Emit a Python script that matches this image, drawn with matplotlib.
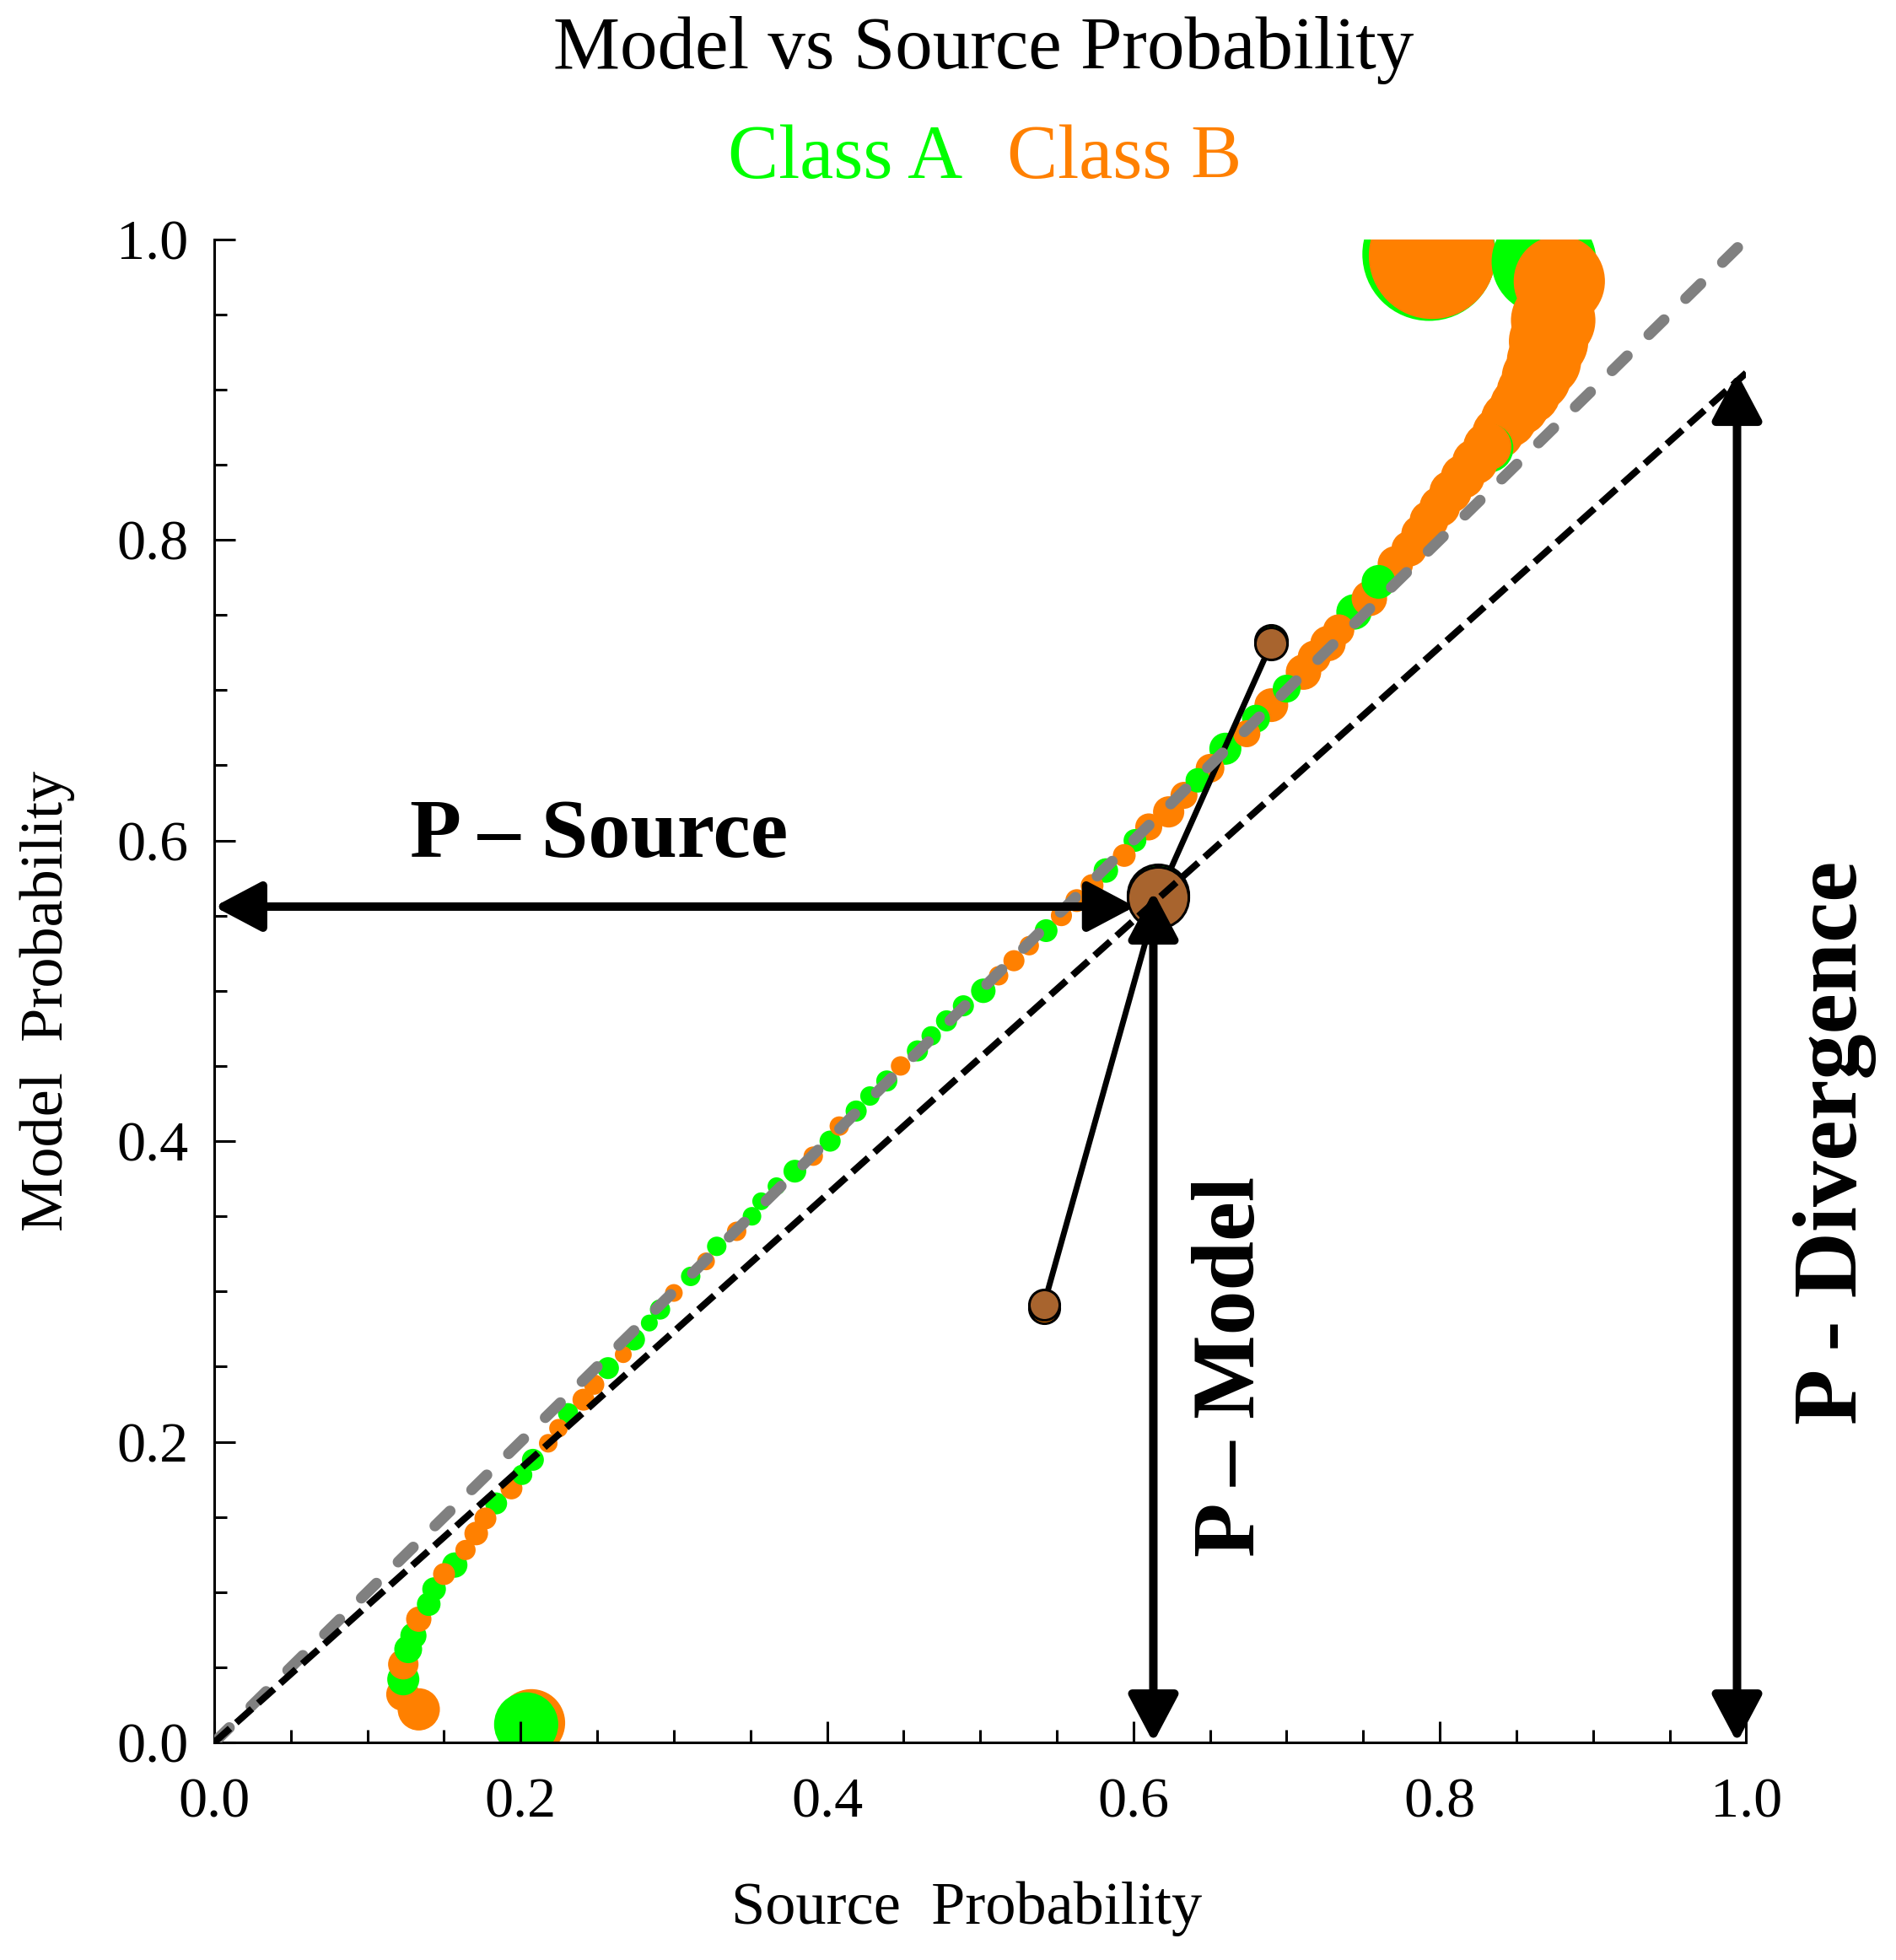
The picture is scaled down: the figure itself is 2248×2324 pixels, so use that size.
import matplotlib
matplotlib.use("Agg")
import matplotlib.pyplot as plt
import matplotlib.transforms as mtransforms
from matplotlib.patches import FancyArrowPatch
from matplotlib.ticker import MultipleLocator, FormatStrFormatter
import numpy as np

plt.rcParams['font.family'] = ['Liberation Serif', 'DejaVu Serif']
plt.rcParams['lines.scale_dashes'] = False

# Class A (green): source probability, model probability, bin weight
a_src = [0.2036, 0.1234, 0.1266, 0.130, 0.140, 0.1435, 0.157, 0.184, 0.201, 0.208,
         0.231, 0.257, 0.274, 0.284, 0.291,
         0.311, 0.328, 0.351, 0.357, 0.367, 0.379, 0.402, 0.419, 0.428, 0.439,
         0.459, 0.468, 0.478, 0.489, 0.502, 0.543, 0.582, 0.601, 0.642,
         0.660, 0.680, 0.700, 0.744, 0.760, 0.832, 0.868, 0.793]
a_mod = [0.012, 0.042, 0.062, 0.071, 0.092, 0.102, 0.118, 0.159, 0.178, 0.188,
         0.219, 0.249, 0.268, 0.279, 0.288,
         0.310, 0.330, 0.350, 0.360, 0.370, 0.380, 0.400, 0.420, 0.430, 0.440,
         0.460, 0.470, 0.480, 0.490, 0.500, 0.540, 0.580, 0.600, 0.640,
         0.661, 0.681, 0.701, 0.752, 0.772, 0.861, 0.985, 0.990]
a_w = [38, 19, 16.5, 15.5, 14, 14, 15, 13, 12, 13,
       12, 13, 13, 10, 12,
       11.5, 11.5, 11, 10.5, 10.5, 13.5, 12.5, 12.5, 11.5, 12.5,
       12.5, 11.5, 12.5, 12.5, 14.5, 13.5, 14.5, 13.5, 14.5,
       19, 16.5, 16.5, 21, 20, 29, 62, 79]

# Class B (orange)
b_src = [0.207, 0.1335, 0.123, 0.1234, 0.1335, 0.150, 0.164, 0.171, 0.177, 0.194,
         0.218, 0.2247, 0.241, 0.248, 0.267, 0.300,
         0.321, 0.341, 0.391, 0.408, 0.448, 0.512, 0.522, 0.532, 0.553, 0.563,
         0.573, 0.594, 0.610, 0.623, 0.633, 0.650,
         0.674, 0.690, 0.711, 0.718, 0.727, 0.734, 0.754, 0.771,
         0.780, 0.787, 0.793, 0.800, 0.807, 0.815, 0.823, 0.831, 0.838, 0.845,
         0.852, 0.858, 0.863, 0.868, 0.871, 0.874, 0.878, 0.795]
b_mod = [0.013, 0.022, 0.032, 0.052, 0.082, 0.112, 0.128, 0.139, 0.149, 0.169,
         0.199, 0.209, 0.228, 0.238, 0.258, 0.299,
         0.320, 0.340, 0.390, 0.410, 0.450, 0.510, 0.520, 0.530, 0.550, 0.560,
         0.570, 0.590, 0.609, 0.619, 0.630, 0.648,
         0.671, 0.690, 0.712, 0.722, 0.731, 0.740, 0.761, 0.784,
         0.794, 0.804, 0.813, 0.822, 0.832, 0.842, 0.852, 0.862, 0.871, 0.880,
         0.889, 0.898, 0.908, 0.919, 0.932, 0.946, 0.972, 0.989]
b_w = [40, 25, 19.5, 18, 15, 13, 12, 14, 13, 13,
       11, 11, 13, 12, 10, 10.5,
       10.5, 11.5, 11.5, 11.5, 11.5, 11.5, 12.5, 11.5, 12.5, 13.5,
       13.5, 13.5, 16, 18.5, 16, 17,
       16, 20, 21, 19.5, 21, 18.5, 21, 21,
       21, 22, 23, 24, 25, 26, 27, 28.5, 30.5, 33,
       35, 38, 41, 44, 47, 50, 54, 75]

# highlighted sample and its two neighbours
hl_src = [0.616, 0.690, 0.5415]
hl_mod = [0.562, 0.731, 0.291]
hl_w = [36, 19, 18]
hl_under = ['A', 'A', 'B']

# reference lines / arrows
div_end = 0.911        # model line end at source = 1
p_source_y = 0.556
p_source_x = 0.601
p_model_x = 0.613
p_model_y = 0.566
p_div_x = 0.994

GREEN = '#00ff00'
ORANGE = '#ff8000'
BROWN = '#a8642e'


def area(w):
    return 0.52 * np.asarray(w, dtype=float) ** 2


fig = plt.figure(figsize=(11.24, 11.62), dpi=200)
ax = fig.add_axes([0.113, 0.111, 0.808, 0.767])

# all bins in one layer, biggest first so small ones stay visible
xs = np.array(a_src + b_src)
ys = np.array(a_mod + b_mod)
ws = np.array(a_w + b_w)
cols = np.array([GREEN] * len(a_src) + [ORANGE] * len(b_src))
order = np.argsort(-ws, kind='stable')
ax.scatter(xs[order], ys[order], s=area(ws[order]), c=cols[order],
           edgecolors='none', zorder=2)

# connectors
for i in (1, 2):
    ax.plot([hl_src[0], hl_src[i]], [hl_mod[0], hl_mod[i]], color='k', lw=2.5,
            solid_capstyle='butt', zorder=3)

# highlighted points, with the class marker peeking out behind
for x, y, w, c in zip(hl_src, hl_mod, hl_w, hl_under):
    dy = 1.2 if c == 'A' else -1.2
    tr = mtransforms.offset_copy(ax.transData, fig=fig, x=0, y=dy, units='points')
    ax.scatter([x], [y], s=area([w]), color=GREEN if c == 'A' else ORANGE,
               edgecolors='k', linewidths=1.1, transform=tr, zorder=3.5)
    ax.scatter([x], [y], s=area([w]), color=BROWN, edgecolors='k',
               linewidths=1.1, zorder=4)

# reference lines
ax.plot([0, 1], [0, 1], color='#808080', lw=4.7, dashes=(9, 13),
        dash_capstyle='round', zorder=5)
ax.plot([0, 1], [0, div_end], color='k', lw=2.9, dashes=(9, 3.6), zorder=5)

# arrows
def darrow(p0, p1):
    arr = FancyArrowPatch(p0, p1, arrowstyle='<|-|>,head_length=0.85,head_width=0.45',
                          mutation_scale=20, lw=3.6, color='k', shrinkA=0, shrinkB=0,
                          zorder=6, clip_on=False)
    ax.add_patch(arr)

darrow((0, p_source_y), (p_source_x, p_source_y))
darrow((p_model_x, 0), (p_model_x, p_model_y))
darrow((p_div_x, 0), (p_div_x, div_end))

ax.text(0.251, 0.589, 'P – Source', ha='center', va='baseline', fontsize=36,
        fontweight='bold', zorder=7)
ax.text(0.665, 0.250, 'P – Model', ha='center', va='center', rotation=90,
        fontsize=38, fontweight='bold', zorder=7)
ax.text(1.058, 0.399, 'P - Divergence', ha='center', va='center', rotation=90,
        fontsize=39, fontweight='bold', zorder=7, clip_on=False)

# axes styling
ax.set_xlim(0, 1)
ax.set_ylim(0, 1)
ax.spines[['top', 'right']].set_visible(False)
for sp in ('left', 'bottom'):
    ax.spines[sp].set_linewidth(1.1)
ax.set_axisbelow(False)
ax.xaxis.set_major_locator(MultipleLocator(0.2))
ax.yaxis.set_major_locator(MultipleLocator(0.2))
ax.xaxis.set_minor_locator(MultipleLocator(0.05))
ax.yaxis.set_minor_locator(MultipleLocator(0.05))
ax.xaxis.set_major_formatter(FormatStrFormatter('%.1f'))
ax.yaxis.set_major_formatter(FormatStrFormatter('%.1f'))
ax.tick_params(which='both', direction='in', width=1.1, labelsize=24.5)
ax.tick_params(which='major', length=9)
ax.tick_params(which='minor', length=5.4)
ax.tick_params(axis='x', pad=15)
ax.tick_params(axis='y', pad=11)

ax.set_xlabel('Source  Probability', fontsize=26, va='center')
ax.xaxis.set_label_coords(0.491, -0.1105)
ax.set_ylabel('Model  Probability', fontsize=26, va='center')
ax.yaxis.set_label_coords(-0.109, 0.493)

fig.text(0.5187, 0.965, 'Model vs Source Probability', ha='center', va='baseline',
         fontsize=32)
fig.text(0.446, 0.909, 'Class A', ha='center', va='baseline', fontsize=32.5, color=GREEN)
fig.text(0.593, 0.909, 'Class B', ha='center', va='baseline', fontsize=32.5, color=ORANGE)

fig.savefig('out.png', dpi=200)
